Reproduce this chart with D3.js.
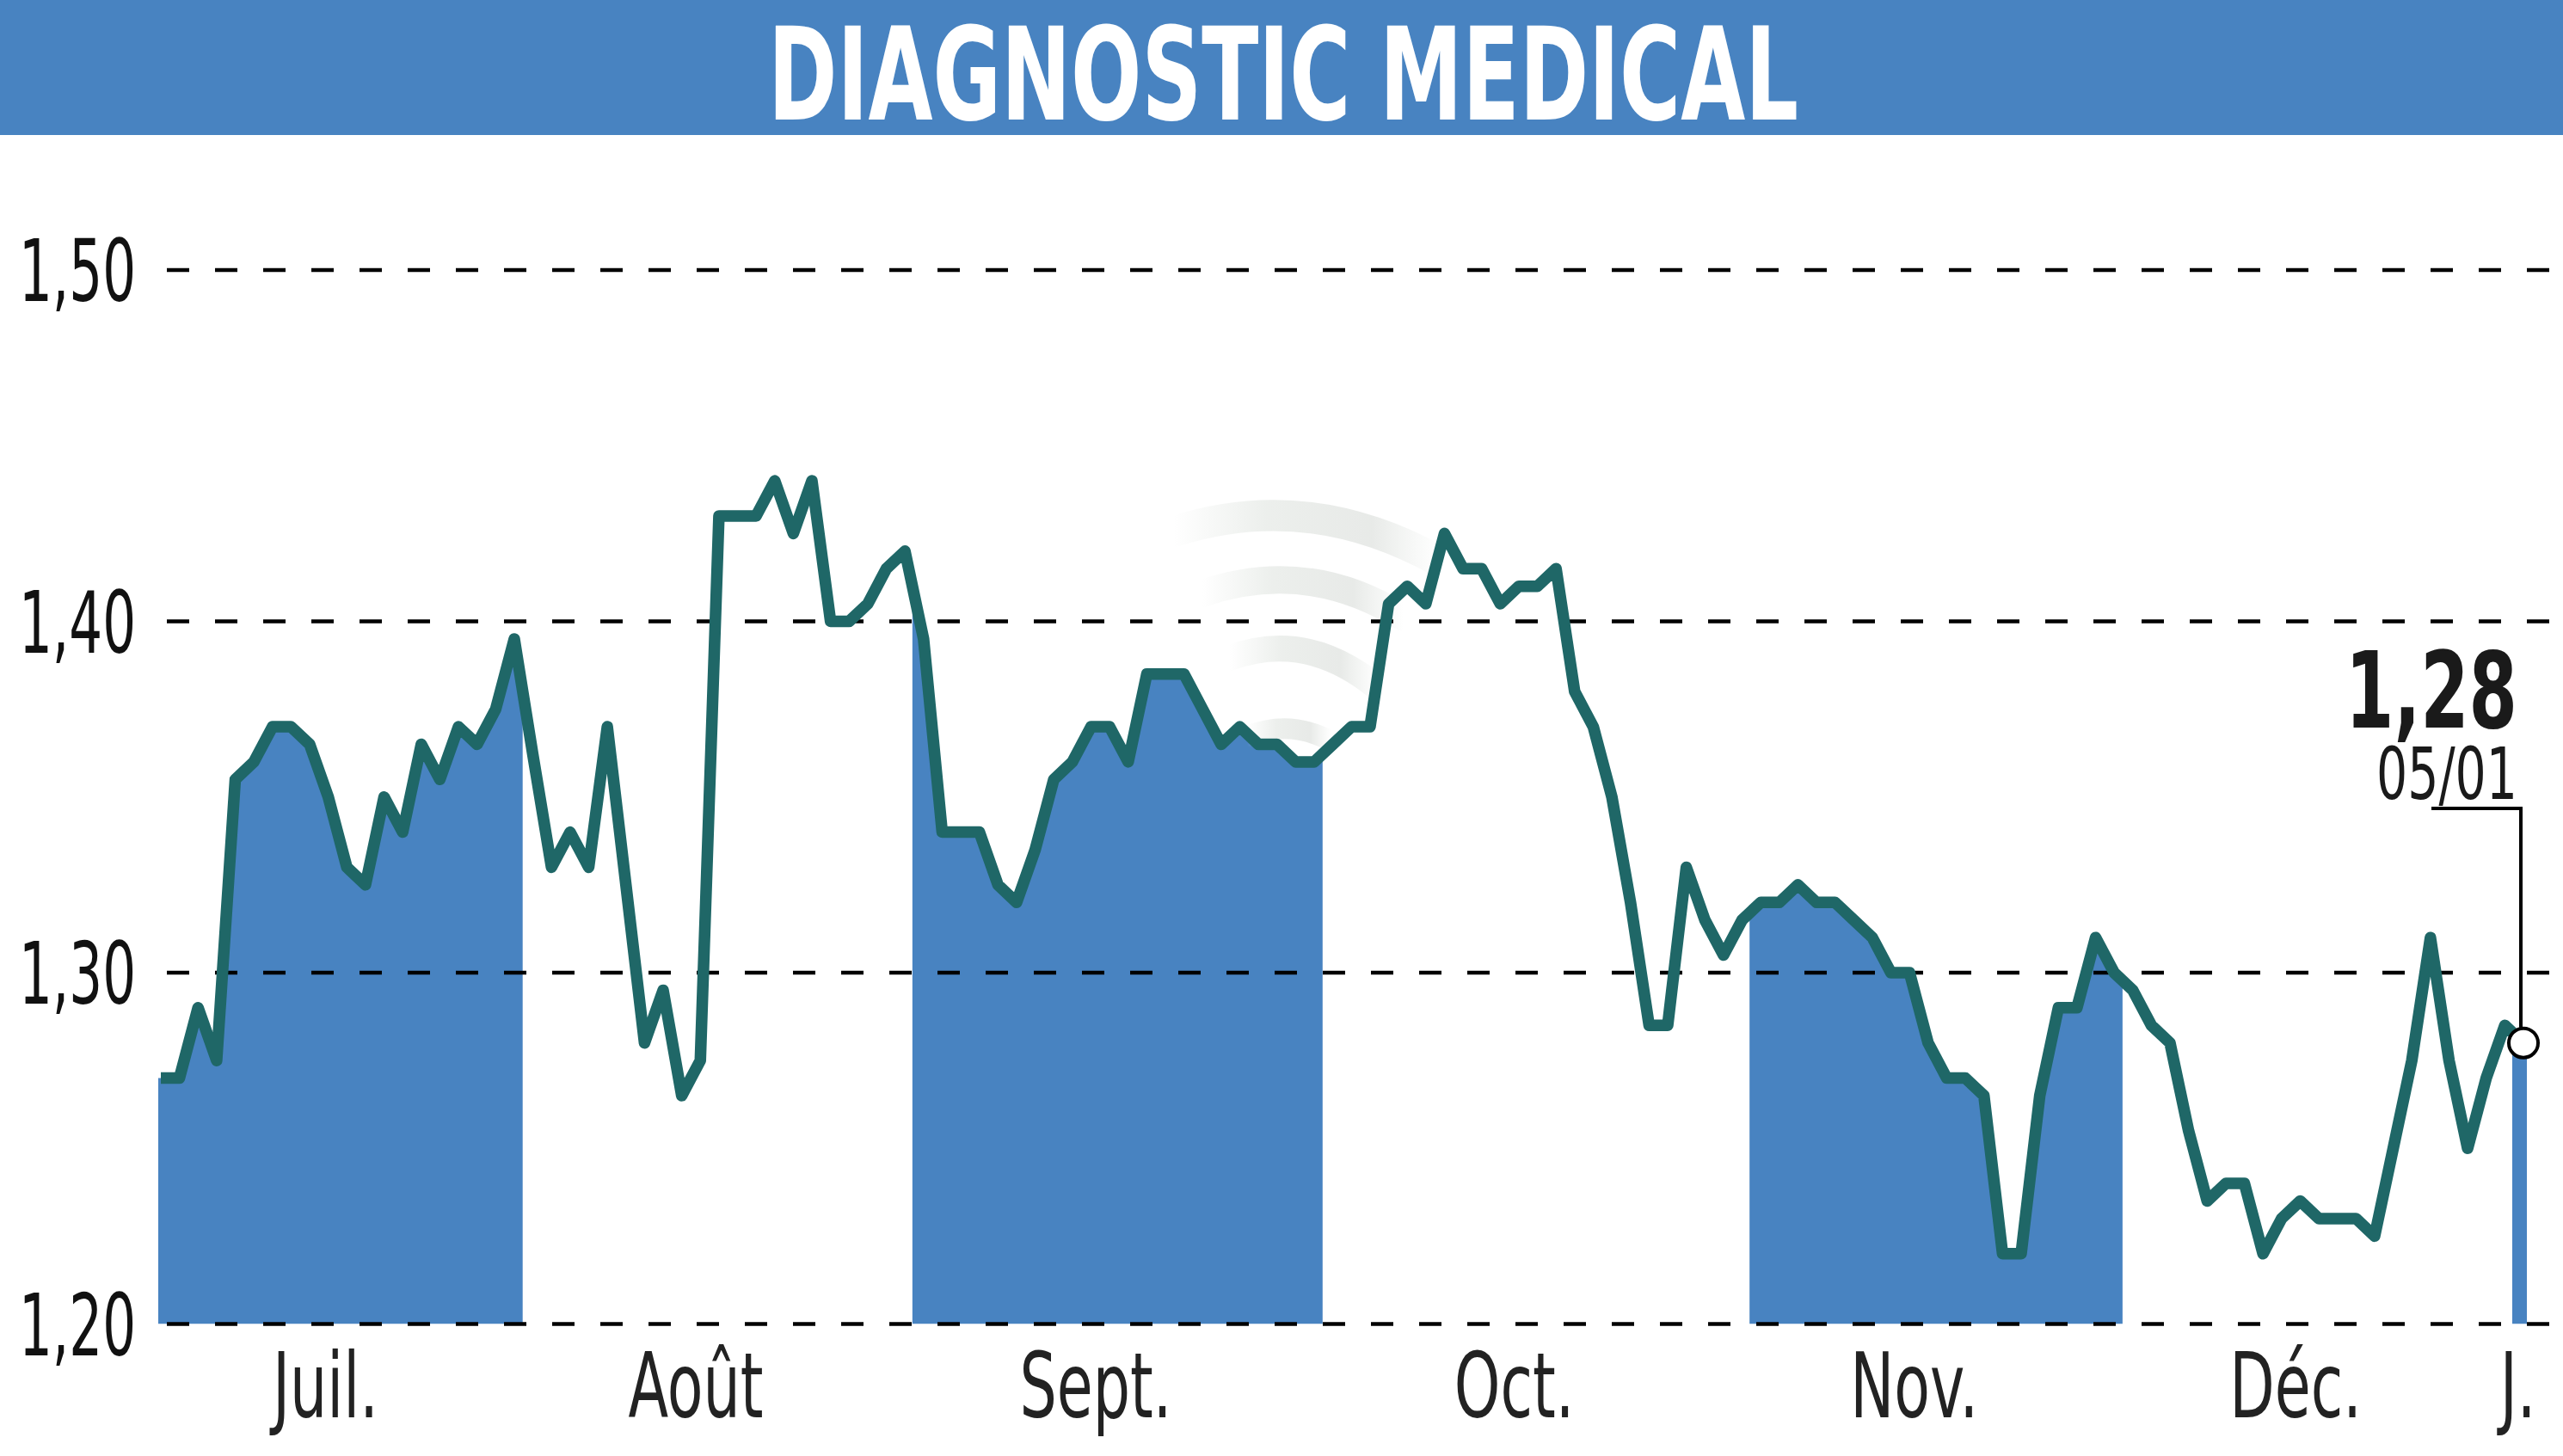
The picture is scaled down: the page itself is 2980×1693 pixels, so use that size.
<!DOCTYPE html>
<html><head><meta charset="utf-8">
<script src="https://cdn.jsdelivr.net/npm/d3@7"></script>
<style>html,body{margin:0;padding:0;background:#fff;overflow:hidden;} svg{display:block;}</style>
</head><body>
<script>
// ---------------- DATA ----------------
const chartTitle = "DIAGNOSTIC MEDICAL";
const prices = [
  // Juil.
  1.27, 1.27, 1.29, 1.275, 1.355, 1.36, 1.37, 1.37, 1.365, 1.35, 1.33, 1.325, 1.35, 1.34, 1.365, 1.355, 1.37, 1.365, 1.375, 1.395,
  // Août
  1.362, 1.33, 1.34, 1.33, 1.37, 1.325, 1.28, 1.295, 1.265, 1.275, 1.43, 1.43, 1.43, 1.44, 1.425, 1.44, 1.40, 1.40, 1.405, 1.415, 1.42,
  // Sept.
  1.395, 1.34, 1.34, 1.34, 1.325, 1.32, 1.335, 1.355, 1.36, 1.37, 1.37, 1.36, 1.385, 1.385, 1.385, 1.375, 1.365, 1.37, 1.365, 1.365, 1.36, 1.36,
  // Oct.
  1.365, 1.37, 1.37, 1.405, 1.41, 1.405, 1.425, 1.415, 1.415, 1.405, 1.41, 1.41, 1.415, 1.38, 1.37, 1.35, 1.32, 1.285, 1.285, 1.33, 1.315, 1.305, 1.315,
  // Nov.
  1.32, 1.32, 1.325, 1.32, 1.32, 1.315, 1.31, 1.30, 1.30, 1.28, 1.27, 1.27, 1.265, 1.22, 1.22, 1.265, 1.29, 1.29, 1.31, 1.30,
  // Déc.
  1.295, 1.285, 1.28, 1.255, 1.235, 1.24, 1.24, 1.22, 1.23, 1.235, 1.23, 1.23, 1.23, 1.225, 1.25, 1.275, 1.31, 1.275, 1.25, 1.27, 1.285,
  // J.
  1.28
];
const monthLabels = ["Juil.", "Août", "Sept.", "Oct.", "Nov.", "Déc.", "J."];
const monthCounts = [20, 21, 22, 23, 20, 21, 1];
const monthShaded = [true, false, true, false, true, false, true];
const yTicks = [1.20, 1.30, 1.40, 1.50];
const yDomain = [1.20, 1.50];
const lastValueLabel = "1,28";
const lastDateLabel = "05/01";

// ---------------- STYLE / LAYOUT ----------------
const W = 2980, H = 1693;
const BLUE = "#4883c1";
const TEAL = "#1f6767";
const FONT = "'Liberation Sans Narrow','DejaVu Sans Condensed','Liberation Sans',Arial,sans-serif";
const locale = d3.formatLocale({decimal: ",", thousands: " ", grouping: [3], currency: ["", "€"]});
const fmt = locale.format(".2f");

const svg = d3.select("body").append("svg").attr("width", W).attr("height", H);

const n = prices.length;
const x = d3.scaleLinear().domain([0, n - 1]).range([187, 2934]);
const y = d3.scaleLinear().domain(yDomain).range([1539.5, 314]);
const step = x(1) - x(0);

// banner
svg.append("rect").attr("x", 0).attr("y", 0).attr("width", W).attr("height", 157).attr("fill", BLUE);

function fitText(parent, str, px, py, size, weight, anchor, targetW, fill, kOverride) {
  const g = parent.append("g").attr("transform", `translate(${px},${py})`);
  const t = g.append("text").attr("font-family", FONT).attr("font-size", size)
    .attr("font-weight", weight).attr("text-anchor", anchor).attr("fill", fill).text(str);
  let k = kOverride;
  if (k === undefined || k === null) { k = targetW / t.node().getComputedTextLength(); }
  t.attr("transform", `scale(${k},1)`);
  return k;
}
function measure(str, size, weight) {
  const t = svg.append("text").attr("font-family", FONT).attr("font-size", size).attr("font-weight", weight).text(str);
  const w = t.node().getComputedTextLength();
  t.remove();
  return w;
}

// title
fitText(svg, chartTitle, 1492, 139, 150, "bold", "middle", 1198, "#fff");

// month index ranges
const months = [];
let acc = 0;
monthLabels.forEach((lab, k) => {
  months.push({label: lab, start: acc, end: acc + monthCounts[k] - 1, shaded: monthShaded[k]});
  acc += monthCounts[k];
});

// clip for shaded bands
const defs = svg.append("defs");
const clip = defs.append("clipPath").attr("id", "bands");
months.filter(m => m.shaded).forEach(m => {
  const x0 = Math.max(x(m.start - 0.6), x(0) - 3);
  const x1 = Math.min(x(m.end + 0.45), x(n - 1) + 4);
  clip.append("rect").attr("x", x0).attr("y", 0).attr("width", x1 - x0).attr("height", y(yDomain[0]));
});

// area (extended slightly past first/last points)
const areaData = [{i: -0.15, v: prices[0]}].concat(prices.map((v, i) => ({i, v}))).concat([{i: n - 1 + 0.2, v: prices[n - 1]}]);
const area = d3.area().x(d => x(d.i)).y0(y(yDomain[0])).y1(d => y(d.v));
svg.append("path").datum(areaData).attr("d", area).attr("fill", BLUE).attr("clip-path", "url(#bands)");

// watermark (faint logo arcs)
const grad = defs.append("linearGradient").attr("id", "wm").attr("x1", "0").attr("x2", "1").attr("y1", "0").attr("y2", "0");
grad.append("stop").attr("offset", "0").attr("stop-color", "#e4e8e4").attr("stop-opacity", 0);
grad.append("stop").attr("offset", "0.35").attr("stop-color", "#e4e8e4").attr("stop-opacity", 0.7);
grad.append("stop").attr("offset", "0.75").attr("stop-color", "#e0e3e0").attr("stop-opacity", 0.75);
grad.append("stop").attr("offset", "1").attr("stop-color", "#e4e8e4").attr("stop-opacity", 0);
const wm = svg.append("g").attr("fill", "none").attr("stroke", "url(#wm)").attr("stroke-linecap", "round");
[["M1365,618 Q1520,568 1672,652", 36],
 ["M1398,690 Q1520,648 1632,718", 32],
 ["M1430,765 Q1520,732 1602,800", 30],
 ["M1450,856 Q1500,836 1548,862", 24]].forEach(([d, sw]) => wm.append("path").attr("d", d).attr("stroke-width", sw));

// gridlines
svg.append("g").selectAll("line").data(yTicks).join("line")
  .attr("x1", 194).attr("x2", W).attr("y1", d => y(d)).attr("y2", d => y(d))
  .attr("stroke", "#000").attr("stroke-width", 4.5).attr("stroke-dasharray", "26,30");

// y labels
const kYs = 136 / measure("1,50", 100, "normal");
yTicks.forEach(t => fitText(svg, fmt(t), 158, y(t) + 36, 100, "normal", "end", null, "#111", kYs));

// price line
const line = d3.line().x((d, i) => x(i)).y(d => y(d));
svg.append("path").datum(prices).attr("d", line).attr("fill", "none").attr("stroke", TEAL)
  .attr("stroke-width", 13.5).attr("stroke-linejoin", "round").attr("stroke-linecap", "butt");

// month labels
const kM = 177 / measure("Sept.", 105, "normal");
months.forEach((m, k) => {
  let cx;
  if (m.end - m.start < 2) cx = x(m.end) - 0.3 * step;
  else cx = x((m.start + m.end) / 2) - (k === 0 ? 0.65 : 1.25) * step;
  fitText(svg, m.label, cx, 1648, 105, "normal", "middle", null, "#222", kM);
});

// last value annotation
const lx = x(n - 1), ly = y(prices[n - 1]);
svg.append("path").attr("d", `M2827,940 H${lx - 3} V${ly - 18}`).attr("fill", "none").attr("stroke", "#000").attr("stroke-width", 4);
svg.append("circle").attr("cx", lx).attr("cy", ly).attr("r", 17).attr("fill", "#fff").attr("stroke", "#000").attr("stroke-width", 4);
fitText(svg, lastValueLabel, 2927, 846, 123, "bold", "end", 200, "#1a1a1a");
fitText(svg, lastDateLabel, 2927, 929, 84, "normal", "end", 164, "#1a1a1a");
</script>
</body></html>
